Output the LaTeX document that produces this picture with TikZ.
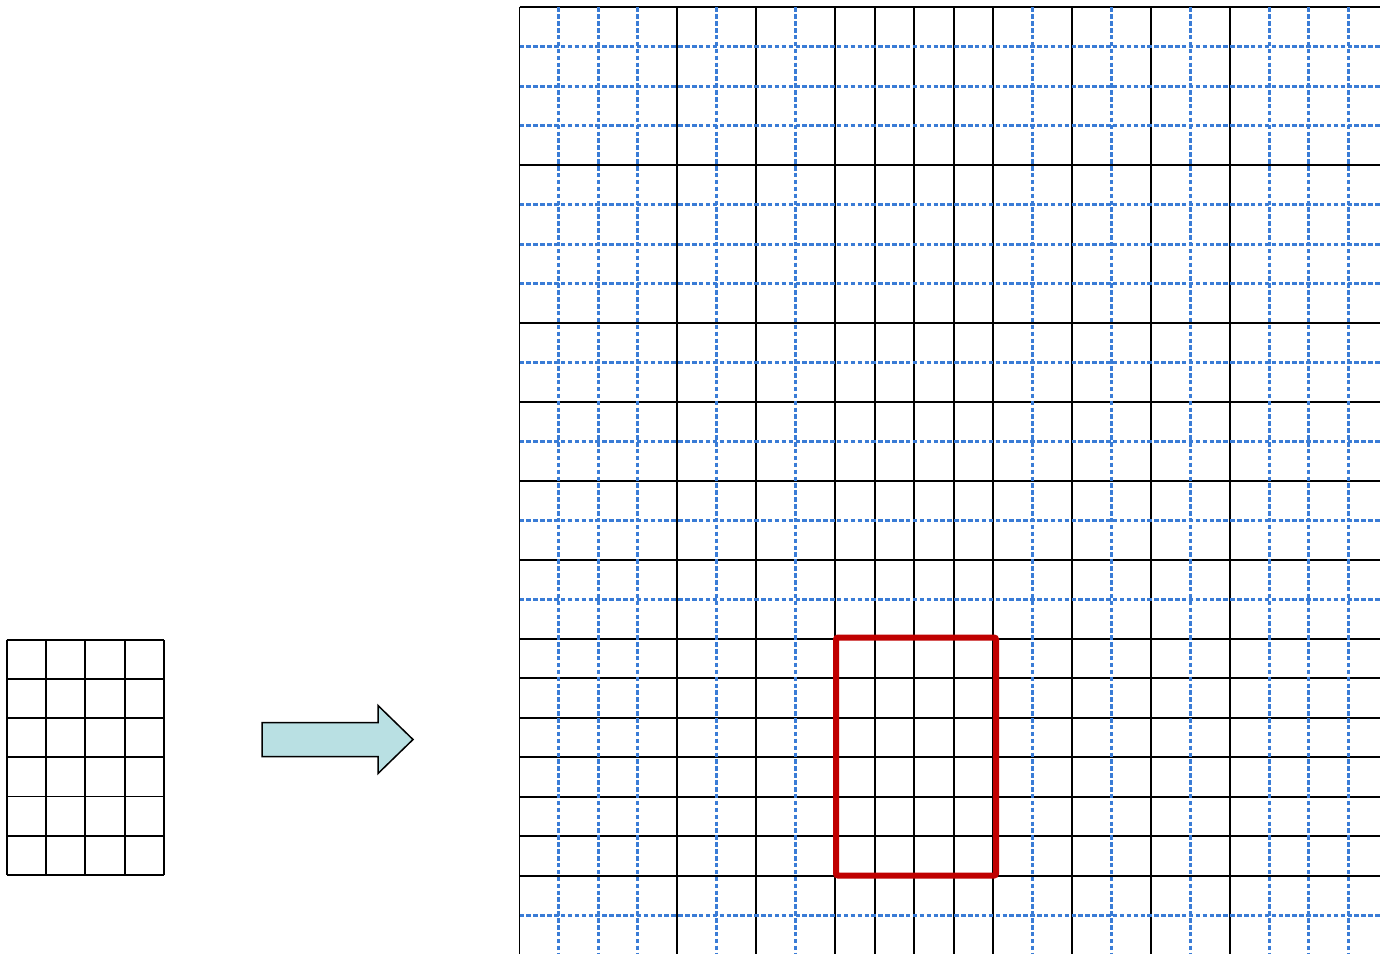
\documentclass[tikz,border=0pt]{standalone}
\usepackage{tikz}
\usetikzlibrary{positioning}
\definecolor{bleuPointille}{RGB}{58,124,214}
\definecolor{rougeCadre}{RGB}{192,0,0}
\definecolor{cyanFleche}{RGB}{185,224,227}

\begin{document}
\begin{tikzpicture}[x=1pt, y=-1pt, >=latex]
    % Cadre de la figure
    \useasboundingbox (0,0) rectangle (1380,954);

    % Petite grille (4 colonnes, 6 lignes)
    \foreach \i in {0,...,4}
        \draw[line width=1.9pt] ({6.7+39.35*\i},640) -- ({6.7+39.35*\i},874.7);
    \foreach \j in {0,...,6}
        \draw[line width=1.9pt] (6.7,{640+39.12*\j}) -- (164.1,{640+39.12*\j});

    % Fleche
    \draw[fill=cyanFleche, line width=1.5pt] (262,722.5) -- (378,722.5) -- (378,705.5)
        -- (413,739.5) -- (378,773.5) -- (378,756.5) -- (262,756.5) -- cycle;

    % Grande grille : traits pleins
    \foreach \i in {0,4,6,8,9,10,11,12,14,16,18}
        \draw[line width=1.9pt] ({519.5+39.47*\i},7.3) -- ({519.5+39.47*\i},954);
    \foreach \j in {0,4,8,10,12,14,16,17,18,19,20,21,22}
        \draw[line width=1.9pt] (519.5,{7.3+39.47*\j}) -- (1380,{7.3+39.47*\j});

    % Grande grille : pointilles bleus
    \foreach \i in {1,2,3,5,7,13,15,17,19,20,21}
        \draw[bleuPointille, line width=3pt, dash pattern=on 4.5pt off 2.4pt]
            ({519.5+39.47*\i},7.3) -- ({519.5+39.47*\i},954);
    \foreach \j in {1,2,3,5,6,7,9,11,13,15,23}
        \draw[bleuPointille, line width=3pt, dash pattern=on 4.5pt off 2.4pt]
            (519.5,{7.3+39.47*\j}) -- (1380,{7.3+39.47*\j});

    % Cadre rouge
    \draw[rougeCadre, line width=6pt, rounded corners=2pt] (836,637.5) rectangle (996,875.5);
\end{tikzpicture}
\end{document}
